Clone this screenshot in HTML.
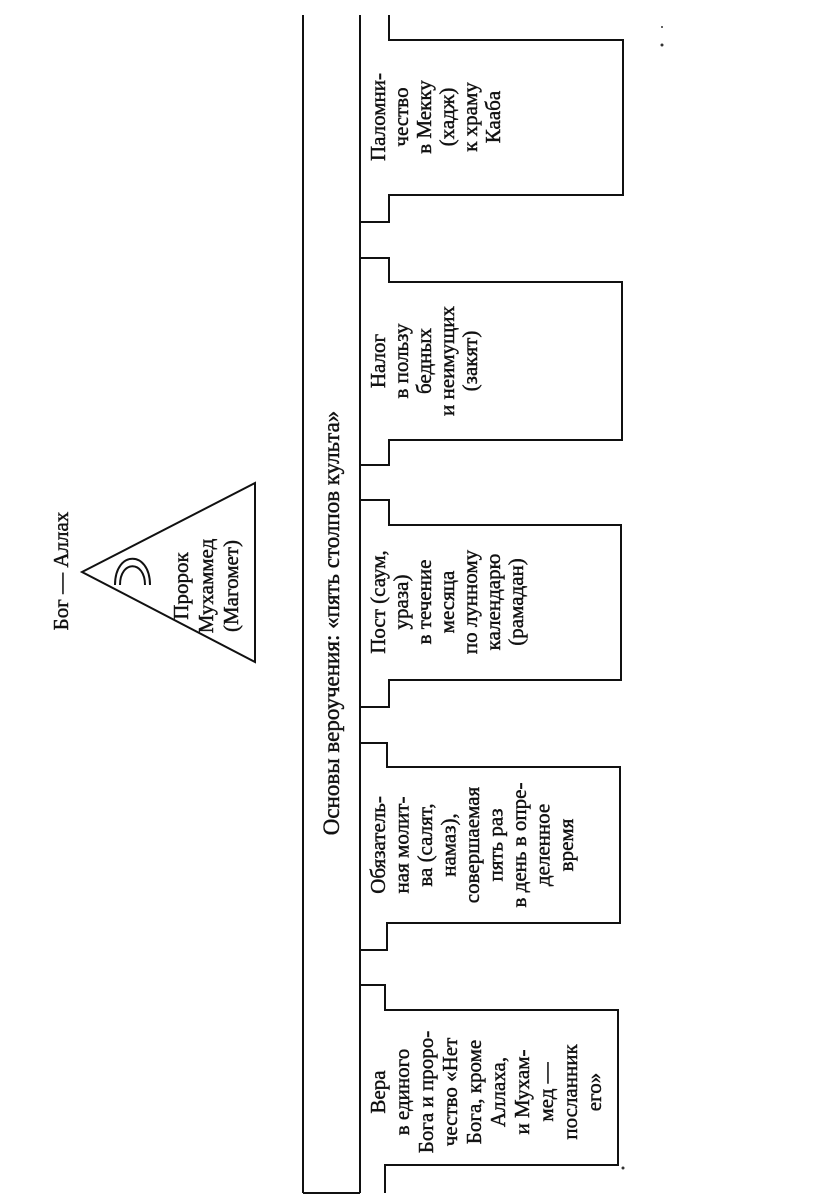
<!DOCTYPE html>
<html><head><meta charset="utf-8"><style>
html,body{margin:0;padding:0;background:#fff;}
svg{display:block;}
text{font-family:"Liberation Serif",serif;fill:#111;stroke:#111;stroke-width:0.45;}
</style></head><body>
<svg width="816" height="1201" viewBox="0 0 816 1201" xmlns="http://www.w3.org/2000/svg">
<g fill="none" stroke="#111" stroke-width="2">
<line x1="303" y1="15" x2="303" y2="1193"/>
<line x1="303" y1="1193" x2="360" y2="1193"/>
<line x1="360" y1="15" x2="360" y2="1193"/>
<polyline points="360,222 389,222 389,195 623,195 623,40 389,40 389,15"/>
<polyline points="360,258 389,258 389,282 622,282 622,440 389,440 389,465 360,465"/>
<polyline points="360,500 389,500 389,525 621,525 621,680 389,680 389,707 360,707"/>
<polyline points="360,743 387,743 387,767 620,767 620,923 387,923 387,950 360,950"/>
<polyline points="360,985 385,985 385,1010 618,1010 618,1165 385,1165 385,1193"/>
<polygon points="82,572 255,483 255,662"/>
<path d="M115,585 C115,550 150,550 150,585" />
<path d="M120,585 C120,560 145,560 145,585" />
</g>
<g font-size="21">
<g transform="translate(68,571) rotate(-90)"><text text-anchor="middle">Бог — Аллах</text></g>
<g transform="translate(188,586) rotate(-90)" text-anchor="middle">
<text y="0">Пророк</text><text y="25">Мухаммед</text><text y="50">(Магомет)</text>
</g>
<g transform="translate(339,623) rotate(-90)"><text text-anchor="middle" font-size="23">Основы вероучения: «пять столпов культа»</text></g>
<g transform="translate(385,117) rotate(-90)" text-anchor="middle">
<text y="0">Паломни-</text><text y="23">чество</text><text y="46">в Мекку</text><text y="69">(хадж)</text><text y="92">к храму</text><text y="115">Кааба</text>
</g>
<g transform="translate(385,361) rotate(-90)" text-anchor="middle">
<text y="0">Налог</text><text y="23">в пользу</text><text y="46">бедных</text><text y="69">и неимущих</text><text y="92">(закят)</text>
</g>
<g transform="translate(385,602) rotate(-90)" text-anchor="middle">
<text y="0">Пост (саум,</text><text y="23">ураза)</text><text y="46">в течение</text><text y="69">месяца</text><text y="92">по лунному</text><text y="115">календарю</text><text y="138">(рамадан)</text>
</g>
<g transform="translate(385,845) rotate(-90)" text-anchor="middle">
<text y="0">Обязатель-</text><text y="23.5">ная молит-</text><text y="47">ва (салят,</text><text y="70.5">намаз),</text><text y="94">совершаемая</text><text y="117.5">пять раз</text><text y="141">в день в опре-</text><text y="164.5">деленное</text><text y="188">время</text>
</g>
<g transform="translate(385,1092) rotate(-90)" text-anchor="middle">
<text y="0">Вера</text><text y="24">в единого</text><text y="48">Бога и проро-</text><text y="72">чество «Нет</text><text y="96">Бога, кроме</text><text y="120">Аллаха,</text><text y="144">и Мухам-</text><text y="168">мед —</text><text y="192">посланник</text><text y="216">его»</text>
</g>
</g>
<circle cx="662" cy="45" r="1.5" fill="#333"/>
<circle cx="662" cy="27" r="1" fill="#333"/>
<circle cx="623" cy="1168" r="1.5" fill="#333"/>
</svg>
</body></html>
